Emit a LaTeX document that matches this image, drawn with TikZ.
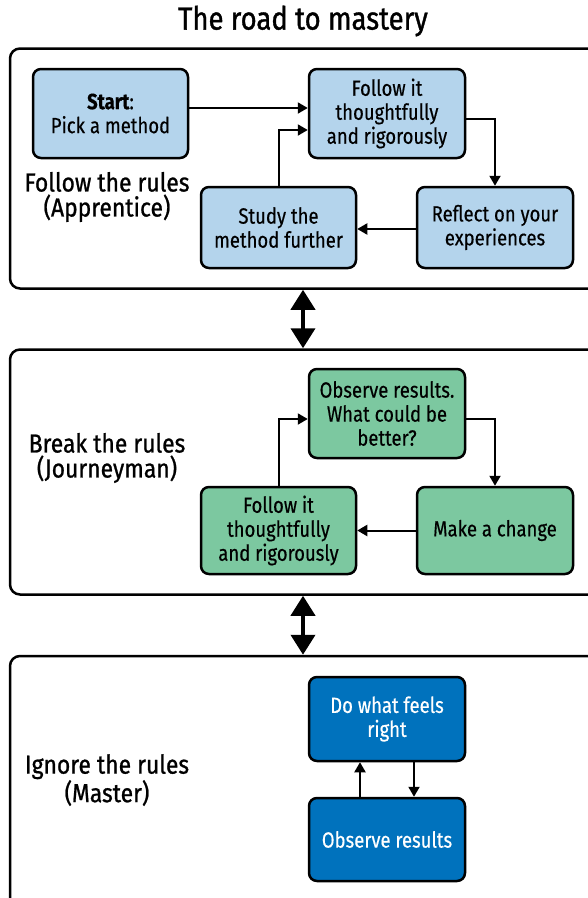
\documentclass[tikz,border=0pt]{standalone}
\usepackage{fontspec}
\setmainfont{Fira Sans}[FakeStretch=0.84, FakeBold=0.4]
\newfontfamily\labelfont{Fira Sans}[FakeStretch=0.88, FakeBold=0.9]
\newfontfamily\titlefont{Fira Sans}[FakeStretch=0.86, FakeBold=1.1]
\usetikzlibrary{arrows.meta}
\definecolor{lblue}{HTML}{B4D4EC}
\definecolor{lgreen}{HTML}{7CC8A0}
\definecolor{dblue}{HTML}{0072BD}
\begin{document}
\begin{tikzpicture}[x=1pt,y=-1pt,
  outer/.style={draw=black, line width=2.5pt, rounded corners=10pt, inner sep=0pt, fill=white},
  stepbox/.style={draw=black, line width=2.5pt, rounded corners=8pt, align=center, inner sep=2pt,
    font=\fontsize{22}{24}\selectfont},
  bluebox/.style={stepbox, fill=lblue, text=black},
  greenbox/.style={stepbox, fill=lgreen, text=black},
  darkbox/.style={stepbox, fill=dblue, text=white},
  lbl/.style={align=center, font=\labelfont\fontsize{26}{25}\selectfont},
  conn/.style={line width=2pt, -{Triangle[width=11pt,length=10pt]}},
  dbl/.style={line width=4pt, {Triangle[width=24pt,length=20pt]}-{Triangle[width=24pt,length=20pt]}}
]
\useasboundingbox (0,0) rectangle (588,898);
\clip (0,0) rectangle (588,898);
\fill[white] (0,0) rectangle (588,898);

\node[font=\titlefont\fontsize{32}{36}\selectfont] (title) at (303,21) {The road to mastery};

% panels
\node[outer, minimum width=600pt, minimum height=240pt] (P1) at (310,168.5) {};
\node[outer, minimum width=600pt, minimum height=245pt] (P2) at (310,472) {};
\node[outer, minimum width=600pt, minimum height=280pt] (P3) at (310,796) {};

% panel 1
\node[lbl] (L1) at (107,197) {Follow the rules\\(Apprentice)};
\node[bluebox, minimum width=155pt, minimum height=89pt] (start) at (110.5,113.5) {\textbf{Start}:\\Pick a method};
\node[bluebox, minimum width=156pt, minimum height=89pt] (follow) at (387,113.5) {Follow it\\thoughtfully\\and rigorously};
\node[bluebox, minimum width=155pt, minimum height=81pt] (study) at (278.5,227.5) {Study the\\method further};
\node[bluebox, minimum width=156pt, minimum height=81pt] (reflect) at (495,227.5) {Reflect on your\\experiences};

\draw[conn] ([yshift=5.5pt]start.east) -- ([yshift=5.5pt]follow.west);
\draw[conn] (study.north) |- ([yshift=-16.5pt]follow.west);
\draw[conn] ([yshift=-5.5pt]follow.east) -| (reflect.north);
\draw[conn] ([yshift=-1.5pt]reflect.west) -- ([yshift=-1.5pt]study.east);

% panel 2
\node[lbl] (L2) at (107,458) {Break the rules\\(Journeyman)};
\node[greenbox, minimum width=156pt, minimum height=89pt] (observe) at (387,413.5) {Observe results.\\What could be\\better?};
\node[greenbox, minimum width=155pt, minimum height=87pt] (follow2) at (278.5,530.5) {Follow it\\thoughtfully\\and rigorously};
\node[greenbox, minimum width=156pt, minimum height=87pt] (change) at (495,530.5) {Make a change};

\draw[conn] (follow2.north) |- ([yshift=-5.5pt]observe.west);
\draw[conn] ([yshift=-5.5pt]observe.east) -| (change.north);
\draw[conn] (change.west) -- (follow2.east);

% panel 3
\node[lbl] (L3) at (107,780) {Ignore the rules\\(Master)};
\node[darkbox, minimum width=156pt, minimum height=84pt] (dowhat) at (387,719) {Do what feels\\right};
\node[darkbox, minimum width=156pt, minimum height=83pt] (obsr) at (387,839.5) {Observe results};

\draw[conn] ([xshift=-27pt]obsr.north) -- ([xshift=-27pt]dowhat.south);
\draw[conn] ([xshift=27pt]dowhat.south) -- ([xshift=27pt]obsr.north);

% transitions
\draw[dbl] ([xshift=-7pt]P1.south) -- ([xshift=-7pt]P2.north);
\draw[dbl] ([xshift=-7pt]P2.south) -- ([xshift=-7pt]P3.north);
\end{tikzpicture}
\end{document}
